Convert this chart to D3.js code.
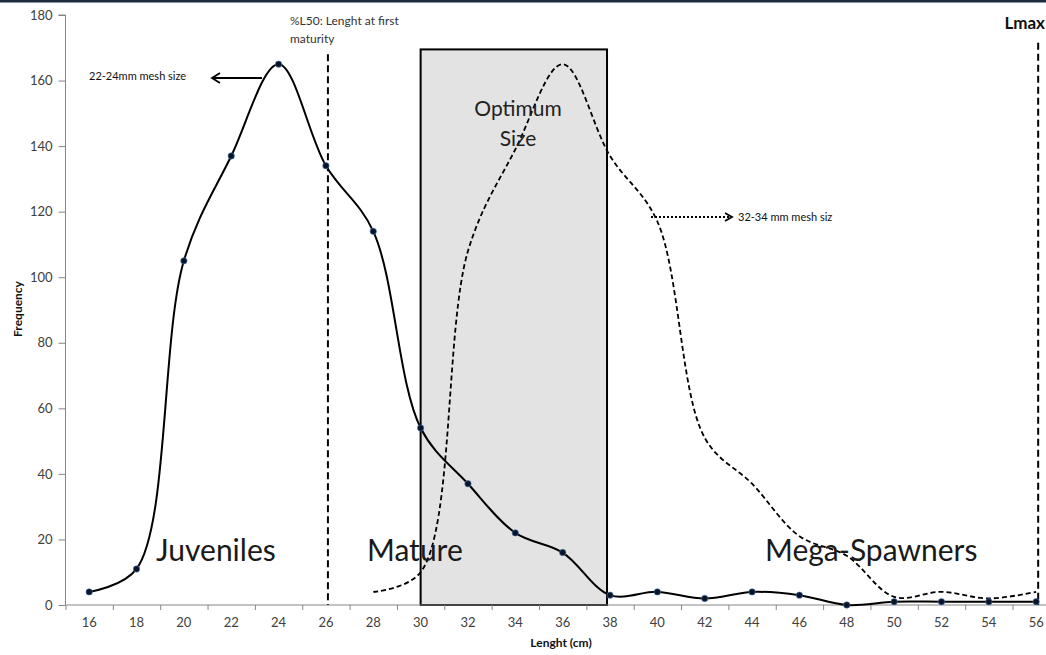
<!DOCTYPE html>
<html>
<head>
<meta charset="utf-8">
<script src="https://cdn.jsdelivr.net/npm/d3@7"></script>
<style>
	body { margin: 0; background: #fff; }
	svg { display: block; font-family: Lato, "Open Sans", sans-serif; }
	.axis path, .axis line { stroke: #868686; }
	.axis text { fill: #404040; font-size: 13px; font-family: Lato, sans-serif; }
</style>
</head>
<body>
<div id="chart-area"></div>
<script>
// lengths (cm), one category each
const lengths = [16, 18, 20, 22, 24, 26, 28, 30, 32, 34, 36, 38, 40, 42, 44, 46, 48, 50, 52, 54, 56];
// observed catch frequency (solid line with markers)
const catchFreq = [4, 11, 105, 137, 165, 134, 114, 54, 37, 22, 16, 3, 4, 2, 4, 3, 0, 1, 1, 1, 1];
// expected frequency with larger mesh (dashed line), starts at 28 cm
const meshFreq = [null, null, null, null, null, null, 4, 10, 108, 139, 165, 137, 117, 51, 37, 21, 15, 2.5, 4, 2, 4];
const yTicks = [0, 20, 40, 60, 80, 100, 120, 140, 160, 180];
// annotated lengths
const l50 = 26;
const lmax = 56;
const optimumRange = [30, 38];

window.addEventListener('DOMContentLoaded', () => {

	const W = 1046, H = 655;
	const left = 65.5, top = 15, bottom = 605;
	const step = 47.35;

	const svg = d3.select('#chart-area')
		.append('svg')
		.attr('width', W)
		.attr('height', H);

	// dark strip at the top of the picture
	svg.append('rect')
		.attr('x', 0).attr('y', 0)
		.attr('width', W).attr('height', 2.5)
		.attr('fill', '#1c2b3c');

	// Scales
	const x = d3.scaleBand()
		.domain(lengths)
		.range([left, left + step * lengths.length])
		.paddingInner(0).paddingOuter(0);
	const cx = (d) => x(d) + x.bandwidth() / 2;

	const y = d3.scaleLinear()
		.domain([0, 180])
		.range([bottom, top]);

	// Optimum size box
	svg.append('rect')
		.attr('x', cx(optimumRange[0]))
		.attr('y', y(169.5))
		.attr('width', cx(optimumRange[1]) - 3 - cx(optimumRange[0]))
		.attr('height', y(0) - y(169.5))
		.attr('fill', '#e3e3e3')
		.attr('stroke', '#000')
		.attr('stroke-width', 2);

	// Y axis
	const leftAxis = d3.axisLeft(y)
		.tickValues(yTicks)
		.tickSize(7)
		.tickPadding(6);
	svg.append('g')
		.attr('class', 'axis axis-left')
		.attr('transform', `translate(${left}, 0)`)
		.call(leftAxis)
		.call(g => g.select('.domain').attr('d', `M-7,${top}H0V${bottom}`));

	// X axis: labels at category centres, ticks between categories
	const bottomAxis = d3.axisBottom(x)
		.tickSize(0)
		.tickPadding(13);
	const gx = svg.append('g')
		.attr('class', 'axis axis-bottom')
		.attr('transform', `translate(0, ${bottom})`)
		.call(bottomAxis);
	gx.select('.domain').remove();
	const edges = d3.scaleLinear().domain([0, lengths.length]).range(x.range());
	svg.append('g')
		.attr('class', 'axis')
		.attr('transform', `translate(0, ${bottom})`)
		.call(d3.axisBottom(edges).tickValues(d3.range(0, lengths.length + 1)).tickFormat('').tickSize(5))
		.call(g => g.select('.domain').attr('d', `M${left},0H${W}`));

	// L50 and Lmax lines
	[[l50, y(168)], [lmax, y(171.5)]].forEach(([v, y0]) => {
		svg.append('line')
			.attr('x1', cx(v) + 2).attr('x2', cx(v) + 2)
			.attr('y1', y0).attr('y2', y(0))
			.attr('stroke', '#000')
			.attr('stroke-width', 2)
			.attr('stroke-dasharray', '7,4');
	});

	const line = d3.line()
		.x(d => cx(d.len))
		.y(d => y(d.v))
		.curve(d3.curveCatmullRom.alpha(0.5));

	// dashed series
	const meshData = lengths.map((len, i) => ({ len, v: meshFreq[i] })).filter(d => d.v != null);
	svg.append('path')
		.datum(meshData)
		.attr('d', line)
		.attr('fill', 'none')
		.attr('stroke', '#000')
		.attr('stroke-width', 1.8)
		.attr('stroke-dasharray', '5,3');

	// solid series
	const catchData = lengths.map((len, i) => ({ len, v: catchFreq[i] }));
	svg.append('path')
		.datum(catchData)
		.attr('d', line)
		.attr('fill', 'none')
		.attr('stroke', '#000')
		.attr('stroke-width', 2);

	svg.selectAll('circle.pt')
		.data(catchData)
		.enter()
			.append('circle')
			.attr('class', 'pt')
			.attr('cx', d => cx(d.len))
			.attr('cy', d => y(d.v))
			.attr('r', 3.2)
			.attr('fill', '#0a1428')
			.attr('stroke', '#4f7fbf')
			.attr('stroke-width', 0.6);

	// Annotations
	svg.append('text')
		.attr('x', 290).attr('y', 25)
		.attr('font-size', 12).attr('fill', '#333')
		.text('%L50: Lenght at first');
	svg.append('text')
		.attr('x', 290).attr('y', 43)
		.attr('font-size', 12).attr('fill', '#333')
		.text('maturity');

	svg.append('text')
		.attr('x', 1045).attr('y', 29)
		.attr('text-anchor', 'end')
		.attr('font-size', 17).attr('font-weight', 'bold').attr('fill', '#111')
		.text('Lmax');

	// 22-24mm arrow
	svg.append('text')
		.attr('x', 89).attr('y', 80)
		.attr('font-size', 11).attr('fill', '#111')
		.text('22-24mm mesh size');
	svg.append('path')
		.attr('d', 'M262,78H212M220,73L212,78L220,83')
		.attr('fill', 'none')
		.attr('stroke', '#000')
		.attr('stroke-width', 1.8);

	// 32-34mm arrow
	svg.append('path')
		.attr('d', 'M651,217H729')
		.attr('fill', 'none')
		.attr('stroke', '#000')
		.attr('stroke-width', 1.8)
		.attr('stroke-dasharray', '2,2');
	svg.append('path')
		.attr('d', 'M725,213L732,217L725,221')
		.attr('fill', 'none')
		.attr('stroke', '#000')
		.attr('stroke-width', 1.8);
	svg.append('text')
		.attr('x', 738).attr('y', 221)
		.attr('font-size', 11).attr('fill', '#111')
		.text('32-34 mm mesh siz');

	// box text
	svg.append('text')
		.attr('x', 518).attr('y', 116)
		.attr('text-anchor', 'middle')
		.attr('font-size', 21).attr('fill', '#222')
		.text('Optimum');
	svg.append('text')
		.attr('x', 518).attr('y', 146)
		.attr('text-anchor', 'middle')
		.attr('font-size', 21).attr('fill', '#222')
		.text('Size');

	// stage labels
	[['Juveniles', 156], ['Mature', 367], ['Mega-Spawners', 765]].forEach(([t, x0]) => {
		svg.append('text')
			.attr('x', x0).attr('y', 561)
			.attr('font-size', 30).attr('fill', '#1a1a1a')
			.text(t);
	});

	// axis titles
	svg.append('text')
		.attr('transform', 'translate(22, 309) rotate(-90)')
		.attr('text-anchor', 'middle')
		.attr('font-size', 12).attr('font-weight', 'bold').attr('fill', '#111')
		.text('Frequency');
	svg.append('text')
		.attr('x', 561).attr('y', 647)
		.attr('text-anchor', 'middle')
		.attr('font-size', 12).attr('font-weight', 'bold').attr('fill', '#111')
		.text('Lenght (cm)');

}); // end of document ready
</script>
</body>
</html>
